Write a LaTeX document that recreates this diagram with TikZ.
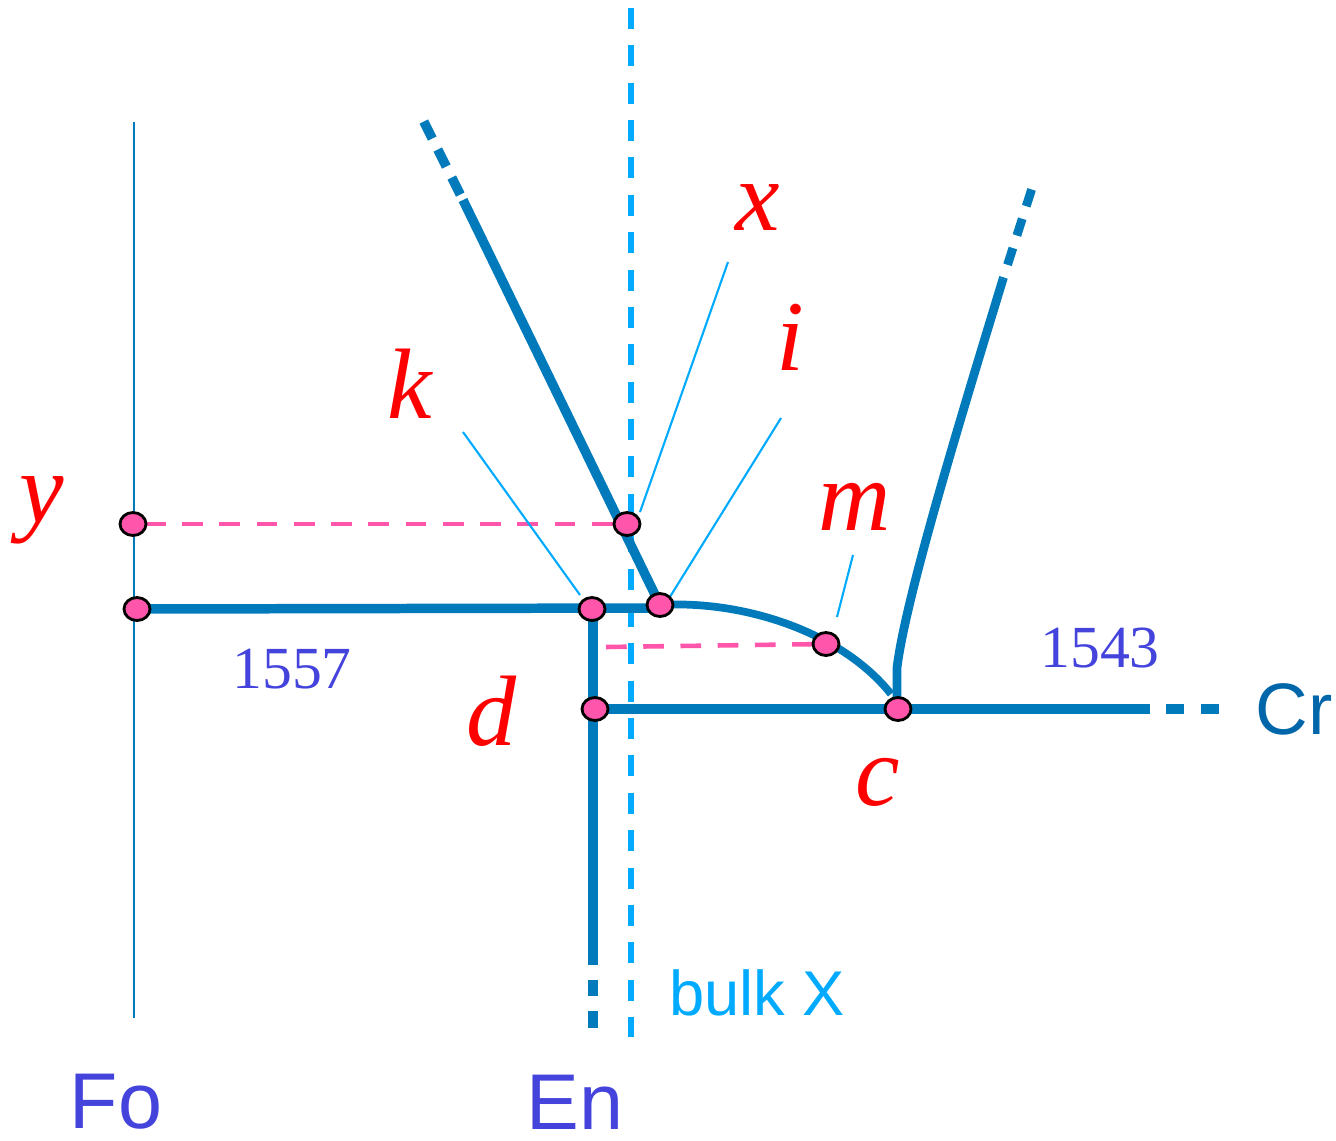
\documentclass[tikz,border=0pt]{standalone}
\usepackage{fontspec}
\setmainfont{Liberation Serif}
\setsansfont{Liberation Sans}
\usetikzlibrary{shapes.geometric}
\definecolor{lineblue}{RGB}{0,122,187}
\definecolor{bulkblue}{RGB}{0,170,255}
\definecolor{dotpink}{RGB}{255,85,170}
\definecolor{numblue}{RGB}{68,68,221}
\definecolor{crblue}{RGB}{0,102,170}
\begin{document}
\begin{tikzpicture}[x=0.02cm,y=-0.02cm,
  mainline/.style={draw=lineblue,line width=5.4pt},
  enddash/.style={draw=lineblue,line width=5.4pt,dash pattern=on 10pt off 8.5pt},
  bulkline/.style={draw=bulkblue,line width=3pt,dash pattern=on 11.95pt off 9.32pt},
  pinkdash/.style={draw=dotpink,line width=2.6pt,dash pattern=on 11.8pt off 9.4pt},
  leader/.style={draw=bulkblue,line width=1.2pt},
  dot/.style={ellipse,draw=black,line width=1.6pt,fill=dotpink,minimum width=0.52cm,minimum height=0.46cm,inner sep=0pt},
  redlab/.style={text=red,font=\fontsize{57}{57}\selectfont\itshape,anchor=base,inner sep=0pt},
  numlab/.style={text=numblue,font=\fontsize{34}{34}\selectfont,anchor=base,inner sep=0pt},
  sanslab/.style={font=\sffamily\fontsize{45}{45}\selectfont,anchor=base,inner sep=0pt,text depth=0pt}]
\useasboundingbox (0,0) rectangle (1336,1140);
% coordinates
\coordinate (Ftop) at (134,122); \coordinate (Fbot) at (134,1018);
\coordinate (Btop) at (631,8);   \coordinate (Bbot) at (631,1037);
\coordinate (Y) at (133,524);
\coordinate (L) at (137,609);
\coordinate (K) at (592,609);
\coordinate (X) at (627,524);
\coordinate (I) at (660,605);
\coordinate (Ih) at (660,608);
\coordinate (M) at (826,644);
\coordinate (D) at (595,709);
\coordinate (C) at (898,709);
\coordinate (Kv) at (593,609);
\coordinate (vend) at (593,963);  \coordinate (vtip) at (593,1028);
\coordinate (Dh) at (593,709);
\coordinate (hend) at (1150,709); \coordinate (htip) at (1222,709);
\coordinate (ulend) at (463,200); \coordinate (ultip) at (423,120);
\coordinate (Cv) at (897,709); \coordinate (Cbend) at (897,668);
\coordinate (Carc) at (891,694);
\coordinate (urend) at (1003,279); \coordinate (urtip) at (1033,185);
\coordinate (Mstart) at (606,647);
% Fo thin line
\draw[draw=lineblue,line width=0.6pt] (Ftop) -- (Fbot);
% bulk X dashed line
\draw[bulkline] (Btop) -- (Bbot);
% pink dashed guides
\draw[pinkdash] (Y) ++(12,0) -- (X);
\draw[pinkdash] (Mstart) -- (M);
% main thick lines
\draw[mainline] (L) -- (Ih);
\draw[mainline] (Kv) -- (vend);
\draw[enddash,dash pattern=on 9.5pt off 8.5pt,dash phase=-9.5pt] (vend) -- (vtip);
\draw[mainline] (Dh) -- (hend);
\draw[enddash,dash pattern=on 10.5pt off 9.5pt,dash phase=-9pt] (hend) -- (htip);
\draw[mainline] (I) -- (ulend);
\draw[enddash,dash pattern=on 10.8pt off 7pt,dash phase=-3.5pt] (ulend) -- (ultip);
\draw[draw=lineblue,line width=4.4pt] (I) .. controls (740,600) and (840,630) .. (Carc);
\draw[mainline,line width=5pt] (Cv) -- (Cbend) .. controls (905,600) and (960,420) .. (urend);
\draw[enddash,line width=5pt,dash pattern=on 10pt off 7.5pt,dash phase=-8.5pt] (urend) -- (urtip);
% leader lines
\coordinate (xl1) at (728,262); \coordinate (xl2) at (640,512);
\coordinate (il1) at (781,418); \coordinate (il2) at (668,600);
\coordinate (kl1) at (463,432); \coordinate (kl2) at (580,595);
\coordinate (ml1) at (853,555); \coordinate (ml2) at (837,617);
\draw[leader] (xl1) -- (xl2);
\draw[leader] (il1) -- (il2);
\draw[leader] (kl1) -- (kl2);
\draw[leader] (ml1) -- (ml2);
% dots
\node[dot] (nY) at (Y) {};
\node[dot] (nL) at (L) {};
\node[dot] (nK) at (K) {};
\node[dot] (nX) at (X) {};
\node[dot] (nI) at (I) {};
\node[dot] (nM) at (M) {};
\node[dot] (nD) at (D) {};
\node[dot] (nC) at (C) {};
% labels
\node[redlab] (tx) at (758,230) {x};
\node[redlab] (ti) at (790,370) {i};
\node[redlab] (tk) at (410,418) {k};
\node[redlab] (ty) at (42,522) {y};
\node[redlab] (tm) at (855,530) {m};
\node[redlab] (td) at (492,745) {d};
\node[redlab] (tc) at (878,805) {c};
\node[numlab] (n1557) at (292,688) {1557};
\node[numlab] (n1543) at (1100,667) {1543};
\node[sanslab,text=numblue] (tFo) at (116,1128) {Fo};
\node[sanslab,text=numblue] (tEn) at (575,1129) {En};
\node[sanslab,text=crblue,font=\sffamily\fontsize{41.5}{41.5}\selectfont] (tCr) at (1294,734) {Cr};
\node[sanslab,text=bulkblue,font=\sffamily\fontsize{36}{36}\selectfont] (tbulk) at (757,1015) {bulk X};
\end{tikzpicture}
\end{document}
